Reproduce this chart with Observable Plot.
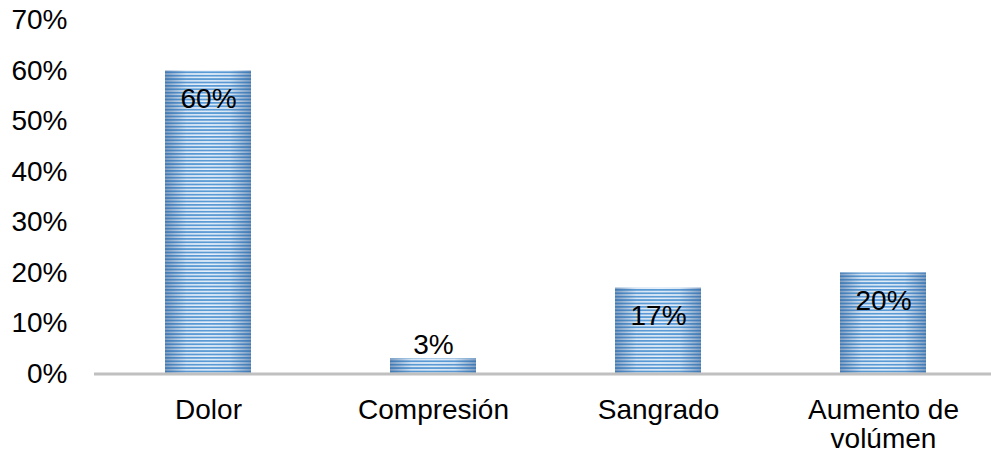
<!DOCTYPE html>
<html>
<head>
<meta charset="utf-8">
<script src="https://cdn.jsdelivr.net/npm/d3@7"></script>
<script src="https://cdn.jsdelivr.net/npm/@observablehq/plot@0.6"></script>
<style>
  html, body { margin: 0; padding: 0; background: #fff; }
  #chart svg { display: block; }
</style>
</head>
<body>
<div id="chart"></div>
<script>
// Síntomas reportados (porcentaje)
const categories = ["Dolor", "Compresión", "Sangrado", "Aumento de volúmen"];
const values = [60, 3, 17, 20];
const tickLabels = ["Dolor", "Compresión", "Sangrado", "Aumento de\nvolúmen"];
const yTicks = [0, 10, 20, 30, 40, 50, 60, 70];

const data = categories.map((c, i) => ({category: c, value: values[i]}));
const labelOf = new Map(categories.map((c, i) => [c, tickLabels[i]]));

const font = "'Liberation Sans', Arial, sans-serif";
const fs = 28;

const chart = Plot.plot({
  width: 991,
  height: 457,
  marginTop: 20,
  marginBottom: 83.5,
  marginLeft: 94,
  marginRight: 0,
  style: {fontFamily: font, fontSize: fs + "px", color: "#000", background: "#fff"},
  x: {domain: categories, range: [94, 997], paddingInner: 0.62, paddingOuter: 0.31},
  y: {domain: [0, 70]},
  marks: [
    Plot.barY(data, {x: "category", y: "value", fill: "url(#stripes)"}),
    Plot.barY(data, {x: "category", y: "value", fill: "url(#shade)"}),
    Plot.ruleY([0], {stroke: "#c0c0c0", strokeWidth: 3}),
    Plot.axisY({
      ticks: yTicks, tickSize: 0, tickPadding: 27,
      tickFormat: d => d + "%", fontSize: fs, label: null
    }),
    Plot.axisX({
      tickSize: 0, tickPadding: 24, lineHeight: 1.05,
      tickFormat: d => labelOf.get(d), fontSize: fs, label: null
    }),
    // Value labels: inside the top of tall bars, above short ones
    Plot.text(data.filter(d => d.value >= 10), {
      x: "category", y: "value", text: d => d.value + "%",
      dy: 28, fontSize: fs, fill: "#000"
    }),
    Plot.text(data.filter(d => d.value < 10), {
      x: "category", y: "value", text: d => d.value + "%",
      dy: -14, fontSize: fs, fill: "#000"
    })
  ]
});

// Striped fill and side shading for the bars
const svg = d3.select(chart);
const defs = svg.insert("defs", ":first-child");
const pat = defs.append("pattern")
  .attr("id", "stripes")
  .attr("patternUnits", "userSpaceOnUse")
  .attr("width", 8).attr("height", 3.4);
pat.append("rect").attr("width", 8).attr("height", 3.4).attr("fill", "#e8f0fa");
pat.append("rect").attr("width", 8).attr("height", 1.8).attr("fill", "#5b9bd5");

const grad = defs.append("linearGradient")
  .attr("id", "shade")
  .attr("x1", "0").attr("x2", "1").attr("y1", "0").attr("y2", "0");
[[0, 0.55], [0.25, 0.05], [0.5, 0], [0.75, 0.05], [1, 0.55]].forEach(([o, a]) => {
  grad.append("stop").attr("offset", o).attr("stop-color", "#2f5f97").attr("stop-opacity", a);
});

document.getElementById("chart").appendChild(chart);
</script>
</body>
</html>
